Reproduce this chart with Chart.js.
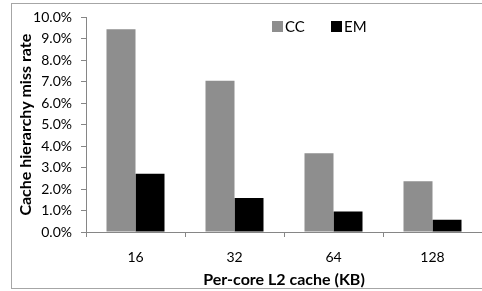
<!DOCTYPE html>
<html>
<head>
<meta charset="utf-8">
<script src="https://cdn.jsdelivr.net/npm/chart.js@4/dist/chart.umd.min.js"></script>
<style>
  html, body { margin: 0; padding: 0; background: #fff; }
  #wrap { width: 482px; height: 291px; position: relative; }
</style>
</head>
<body>
<div id="wrap"><canvas id="chartMiss"></canvas></div>
<script>
const sizes = ['16', '32', '64', '128'];
const ccRate = [9.45, 7.05, 3.67, 2.36];
const emRate = [2.72, 1.58, 0.95, 0.57];
const yTicks = [0, 1, 2, 3, 4, 5, 6, 7, 8, 9, 10];

const FONT = 'Lato, "Open Sans", sans-serif';
const AXIS = '#868686';

// frame round the whole chart + legend in the upper middle
const decor = {
    id: 'decor',
    beforeDraw(chart) {
        const c = chart.ctx;
        c.save();
        c.strokeStyle = '#a6a6a6';
        c.lineWidth = 1;
        c.strokeRect(11.5, 3.5, 480, 285);
        c.restore();
    },
    afterDraw(chart) {
        const c = chart.ctx;
        c.save();
        c.font = '15px ' + FONT;
        c.textBaseline = 'middle';
        let x = 272;
        chart.data.datasets.forEach(ds => {
            c.fillStyle = ds.backgroundColor;
            c.fillRect(x, 21, 11, 11);
            c.fillStyle = '#000';
            c.fillText(ds.label, x + 13, 27);
            x += 59;
        });
        c.restore();
    }
};

new Chart(document.getElementById('chartMiss').getContext('2d'), {
    type: 'bar',
    data: {
        labels: sizes,
        datasets: [
            { label: 'CC', data: ccRate, backgroundColor: '#8e8e8e' },
            { label: 'EM', data: emRate, backgroundColor: '#000000' }
        ]
    },
    options: {
        responsive: true,
        maintainAspectRatio: false,
        animation: false,
        layout: { padding: { top: 14, right: 0, bottom: 0, left: 0 } },
        datasets: { bar: { categoryPercentage: 0.586, barPercentage: 1 } },
        plugins: { legend: { display: false }, tooltip: { enabled: false } },
        scales: {
            x: {
                afterFit(s) { s.height = 59; },
                grid: { drawOnChartArea: false, color: AXIS, tickLength: 5, offset: true },
                border: { color: AXIS },
                ticks: { color: '#000', padding: 12, font: { family: FONT, size: 14 } },
                title: { display: true, text: 'Per-core L2 cache (KB)', color: '#000',
                         padding: { top: 0, bottom: 2 }, font: { family: FONT, size: 16, weight: 'bold' } }
            },
            y: {
                min: 0, max: 10,
                afterFit(s) { s.width = 86; },
                afterBuildTicks(s) { s.ticks = yTicks.map(v => ({ value: v })); },
                grid: { drawOnChartArea: false, color: AXIS, tickLength: 5 },
                border: { color: AXIS },
                ticks: { color: '#000', padding: 9, font: { family: FONT, size: 14 },
                         callback: v => v.toFixed(1) + '%' },
                title: { display: true, text: 'Cache hierarchy miss rate', color: '#000',
                         padding: { top: 16, bottom: 0 }, font: { family: FONT, size: 16, weight: 'bold' } }
            }
        }
    },
    plugins: [decor]
});
</script>
</body>
</html>
